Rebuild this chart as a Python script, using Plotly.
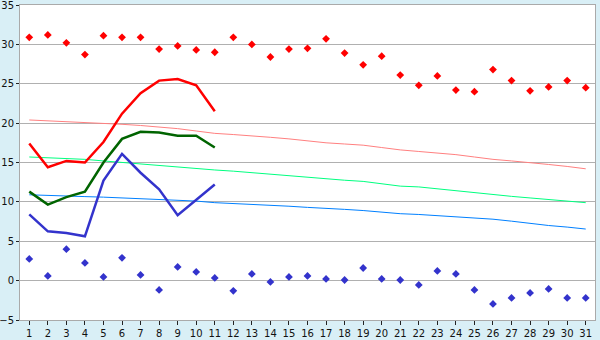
import plotly.graph_objects as go

days = list(range(1, 32))
day_labels = [str(d) for d in days]

max_temps = [30.9, 31.2, 30.2, 28.7, 31.1, 30.9, 30.9, 29.4, 29.8, 29.3, 29.0,
             30.9, 30.0, 28.4, 29.4, 29.5, 30.7, 28.9, 27.4, 28.5, 26.1,
             24.8, 26.0, 24.2, 24.0, 26.8, 25.4, 24.1, 24.6, 25.4, 24.5]
min_temps = [2.75, 0.6, 4.0, 2.25, 0.47, 2.9, 0.72, -1.18, 1.74, 1.1, 0.34,
             -1.3, 0.85, -0.17, 0.47, 0.6, 0.21, 0.08, 1.6, 0.21, 0.08,
             -0.55, 1.23, 0.85, -1.18, -2.96, -2.2, -1.56, -1.05, -2.2, -2.2]

line_days = list(range(1, 12))
red_line = [17.4, 14.4, 15.2, 15.0, 17.6, 21.2, 23.8, 25.4, 25.6, 24.8, 21.5]
green_line = [11.3, 9.65, 10.6, 11.3, 15.0, 18.0, 18.9, 18.8, 18.4, 18.4, 16.9]
blue_line = [8.42, 6.26, 6.05, 5.63, 12.7, 16.1, 13.7, 11.6, 8.3, 10.2, 12.2]

red_trend = [20.4, 20.3, 20.2, 20.1, 20.0, 19.85, 19.7, 19.5, 19.3, 19.0, 18.7,
             18.55, 18.4, 18.2, 18.0, 17.75, 17.5, 17.35, 17.2, 16.9, 16.6,
             16.4, 16.2, 16.0, 15.7, 15.4, 15.2, 15.0, 14.75, 14.5, 14.2]
green_trend = [15.7, 15.6, 15.5, 15.4, 15.2, 15.0, 14.8, 14.6, 14.4, 14.2, 14.05,
               13.9, 13.7, 13.5, 13.3, 13.1, 12.9, 12.75, 12.6, 12.3, 12.0,
               11.9, 11.65, 11.4, 11.15, 10.9, 10.7, 10.5, 10.3, 10.1, 9.9]
blue_trend = [10.9, 10.8, 10.75, 10.67, 10.6, 10.5, 10.4, 10.3, 10.2, 10.1, 9.9,
              9.8, 9.65, 9.55, 9.45, 9.3, 9.2, 9.05, 8.9, 8.7, 8.5,
              8.4, 8.25, 8.1, 7.95, 7.8, 7.55, 7.25, 7.0, 6.8, 6.55]

y_ticks = [-5, 0, 5, 10, 15, 20, 25, 30, 35]

fig = go.Figure()

def trend(y, color):
    fig.add_trace(go.Scatter(x=days, y=y, mode="lines",
                             line=dict(color=color, width=1), hoverinfo="skip"))

trend(red_trend, "#ff8080")
trend(green_trend, "#00ff80")
trend(blue_trend, "#0080ff")

fig.add_trace(go.Scatter(x=line_days, y=red_line, mode="lines",
                         line=dict(color="#ff0000", width=2.5)))
fig.add_trace(go.Scatter(x=line_days, y=green_line, mode="lines",
                         line=dict(color="#006400", width=2.5)))
fig.add_trace(go.Scatter(x=line_days, y=blue_line, mode="lines",
                         line=dict(color="#3333cc", width=2.5)))

fig.add_trace(go.Scatter(x=days, y=max_temps, mode="markers",
                         marker=dict(symbol="diamond", size=6, color="#ff0000")))
fig.add_trace(go.Scatter(x=days, y=min_temps, mode="markers",
                         marker=dict(symbol="diamond", size=6, color="#3333cc")))

fig.update_layout(
    width=600, height=340,
    margin=dict(l=20, r=5, t=5, b=20),
    paper_bgcolor="#d9eff6",
    plot_bgcolor="#ffffff",
    showlegend=False,
    font=dict(family="DejaVu Sans", size=11, color="#111111"),
)
fig.update_xaxes(
    range=[0.5, 31.5], tickmode="array", tickvals=days, ticktext=day_labels,
    showgrid=False, zeroline=False, showline=True, linecolor="#aaaaaa",
    mirror=True, ticks="outside", ticklen=4, tickcolor="#222222",
    tickfont=dict(size=10), automargin=False,
)
fig.update_yaxes(
    range=[-5, 35], tickmode="array", tickvals=y_ticks,
    showgrid=True, gridcolor="#b0b0b0", gridwidth=1, zeroline=False,
    showline=True, linecolor="#aaaaaa", mirror=True,
    ticks="outside", ticklen=3, tickcolor="#222222",
    tickfont=dict(size=10), automargin=False, ticklabeloverflow="allow",
)

fig.write_html("out.html")
